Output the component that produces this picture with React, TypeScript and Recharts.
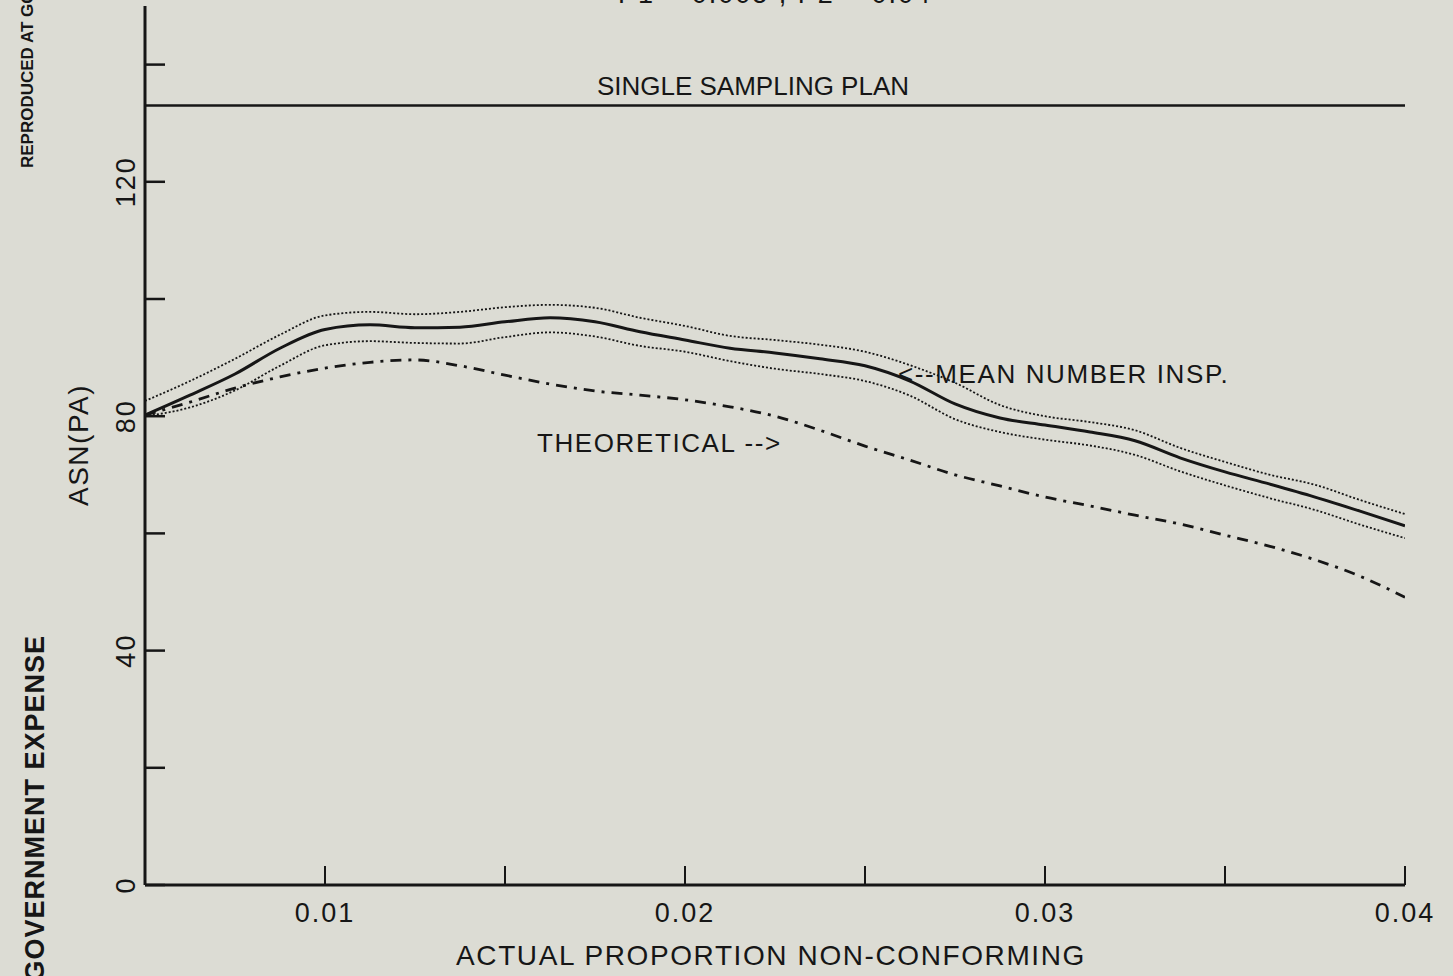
import { LineChart, Line, XAxis, YAxis, ReferenceLine } from "recharts";

// proportion non-conforming (x) and ASN values
const proportion = [
  0.005, 0.00625, 0.0075, 0.00875, 0.01, 0.01125, 0.0125, 0.01375, 0.015,
  0.01625, 0.0175, 0.01875, 0.02, 0.02125, 0.0225, 0.02375, 0.025, 0.02625,
  0.0275, 0.02875, 0.03, 0.03125, 0.0325, 0.03375, 0.035, 0.03625, 0.0375,
  0.03875, 0.04,
];
const meanInsp = [
  80.2, 83.6, 87.2, 91.6, 94.8, 95.6, 95.1, 95.2, 96.1, 96.8, 96.1, 94.4, 93.0,
  91.6, 90.8, 89.8, 88.6, 86.0, 82.1, 79.7, 78.5, 77.3, 75.8, 72.9, 70.5, 68.4,
  66.2, 63.8, 61.3,
];
const upperBand = [
  82.6, 86.0, 89.8, 93.9, 97.2, 97.8, 97.4, 97.8, 98.6, 99.0, 98.5, 96.8, 95.4,
  93.7, 93.0, 92.2, 91.0, 88.7, 85.7, 81.9, 80.0, 79.0, 77.6, 74.6, 72.2, 70.0,
  68.3, 65.7, 63.3,
];
const lowerBand = [
  80.0, 81.5, 84.4, 88.6, 92.1, 92.8, 92.5, 92.4, 93.5, 94.3, 93.6, 92.0, 91.0,
  89.4, 88.1, 87.2, 86.0, 83.5, 79.5, 77.3, 76.0, 75.0, 73.4, 70.6, 68.2, 66.0,
  64.0, 61.5, 59.2,
];
const theoretical = [
  80.2, 82.4, 84.8, 86.7, 88.2, 89.2, 89.6, 88.6, 87.0, 85.5, 84.3, 83.6, 82.8,
  81.6, 80.0, 77.6, 74.9, 72.5, 70.0, 68.1, 66.2, 64.7, 63.1, 61.6, 59.7, 57.8,
  55.5, 52.7, 49.1,
];
const singleSampling = 133;

const xTicks = [0.01, 0.015, 0.02, 0.025, 0.03, 0.035, 0.04];
const xTickLabels = ["0.01", "", "0.02", "", "0.03", "", "0.04"];
const yTicks = [0, 20, 40, 60, 80, 100, 120, 140];
const yTickLabels = ["0", "", "40", "", "80", "", "120", ""];

const data = proportion.map((p, i) => ({
  p,
  mean: meanInsp[i],
  upper: upperBand[i],
  lower: lowerBand[i],
  theory: theoretical[i],
}));

const font = '"Liberation Sans", Arial, sans-serif';
const ink = "#161616";
const paper = "#dcdcd4";

const pick = (ticks: number[], labels: string[], v: number) =>
  labels[ticks.findIndex((t) => Math.abs(t - v) < 1e-9)] ?? "";

const XTick = ({ x, y, payload }: any) => (
  <g>
    <line x1={x} x2={x} y1={y - 19} y2={y} stroke={ink} strokeWidth={2} />
    <text
      x={x}
      y={y + 37}
      textAnchor="middle"
      fontSize={27}
      letterSpacing={2}
      fill={ink}
      fontFamily={font}
    >
      {pick(xTicks, xTickLabels, payload.value)}
    </text>
  </g>
);

const YTick = ({ x, y, payload }: any) => (
  <g>
    <line x1={x} x2={x + 20} y1={y} y2={y} stroke={ink} strokeWidth={2.5} />
    <text
      x={x - 10}
      y={y}
      transform={`rotate(-90 ${x - 10} ${y})`}
      textAnchor="middle"
      fontSize={27}
      letterSpacing={2}
      fill={ink}
      fontFamily={font}
    >
      {pick(yTicks, yTickLabels, payload.value)}
    </text>
  </g>
);

const Notes = () => (
  <svg
    width={1453}
    height={976}
    style={{ position: "absolute", left: 0, top: 0, pointerEvents: "none" }}
    fontFamily={font}
    fill={ink}
  >
    <text x={775} y={3} textAnchor="middle" fontSize={27} letterSpacing={2}>
      P1 = 0.005 , P2 = 0.04
    </text>
    <text x={753} y={95} textAnchor="middle" fontSize={26}>
      SINGLE SAMPLING PLAN
    </text>
    <text x={898} y={383} fontSize={26} letterSpacing={1.6}>
      {"<--MEAN NUMBER INSP."}
    </text>
    <text x={537} y={452} fontSize={26} letterSpacing={1.6}>
      {"THEORETICAL -->"}
    </text>
    <text x={771} y={965} textAnchor="middle" fontSize={28} letterSpacing={1.6}>
      ACTUAL PROPORTION NON-CONFORMING
    </text>
    <text
      x={88}
      y={445}
      transform="rotate(-90 88 445)"
      textAnchor="middle"
      fontSize={28}
      letterSpacing={1.5}
    >
      ASN(PA)
    </text>
    <text
      x={33}
      y={168}
      transform="rotate(-90 33 168)"
      fontSize={17}
      fontWeight="bold"
    >
      REPRODUCED AT GOVERNMENT EXPENSE
    </text>
    <text
      x={44}
      y={635}
      transform="rotate(-90 44 635)"
      textAnchor="end"
      fontSize={27}
      fontWeight="bold"
      letterSpacing={1}
    >
      REPRODUCED AT GOVERNMENT EXPENSE
    </text>
  </svg>
);

export default function App() {
  return (
    <div
      style={{
        position: "absolute",
        left: 0,
        top: 0,
        width: 1453,
        height: 976,
        background: paper,
        overflow: "hidden",
      }}
    >
      <LineChart
        width={1453}
        height={976}
        data={data}
        margin={{ top: 6, right: 48, bottom: 30, left: 0 }}
      >
        <XAxis
          dataKey="p"
          type="number"
          domain={[0.005, 0.04]}
          ticks={xTicks}
          interval={0}
          height={61}
          tickSize={0}
          tickMargin={0}
          tickLine={false}
          axisLine={{ stroke: ink, strokeWidth: 3 }}
          tick={<XTick />}
          allowDataOverflow
        />
        <YAxis
          type="number"
          domain={[0, 150]}
          ticks={yTicks}
          interval={0}
          width={145}
          tickSize={0}
          tickMargin={0}
          tickLine={false}
          axisLine={{ stroke: ink, strokeWidth: 3 }}
          tick={<YTick />}
          allowDataOverflow
        />
        <ReferenceLine y={singleSampling} stroke={ink} strokeWidth={2.5} />
        <Line
          dataKey="upper"
          type="monotone"
          stroke={ink}
          strokeWidth={1.8}
          strokeDasharray="2 2"
          dot={false}
          isAnimationActive={false}
        />
        <Line
          dataKey="lower"
          type="monotone"
          stroke={ink}
          strokeWidth={1.8}
          strokeDasharray="2 2"
          dot={false}
          isAnimationActive={false}
        />
        <Line
          dataKey="theory"
          type="monotone"
          stroke={ink}
          strokeWidth={2.8}
          strokeDasharray="11 7 3 7"
          dot={false}
          isAnimationActive={false}
        />
        <Line
          dataKey="mean"
          type="monotone"
          stroke={ink}
          strokeWidth={3}
          dot={false}
          isAnimationActive={false}
        />
      </LineChart>
      <Notes />
    </div>
  );
}
